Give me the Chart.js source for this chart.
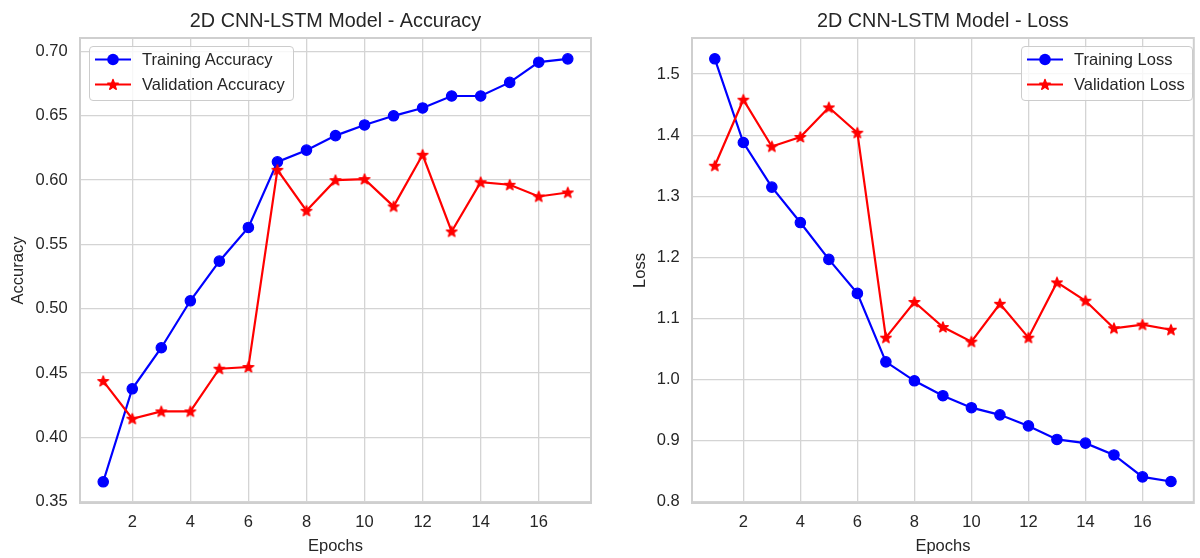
<!DOCTYPE html>
<html>
<head>
<meta charset="utf-8">
<title>2D CNN-LSTM Model - Training History</title>
<script src="https://cdn.jsdelivr.net/npm/chart.js@4.4.1/dist/chart.umd.min.js"></script>
<style>
  html, body {
    margin: 0; padding: 0; background: #ffffff;
    width: 1200px; height: 558px; overflow: hidden; position: relative;
    font-family: "Liberation Sans", Arial, sans-serif; color: #262626;
  }
  canvas { position: absolute; top: 0; }
  #accCanvas { left: 0; }
  #lossCanvas { left: 600px; }
  .legend {
    position: absolute; top: 46px; height: 55px; box-sizing: border-box;
    border: 1px solid #cccccc; border-radius: 4px; background: rgba(255,255,255,0.8);
  }
  .legend .row { position: absolute; left: 0; right: 0; height: 25px; }
  .legend .row svg { position: absolute; left: 5px; top: 0; }
  .legend .row span {
    position: absolute; left: 52px; top: 0; line-height: 25px;
    font-size: 16.5px; white-space: nowrap; color: #262626;
  }
</style>
</head>
<body>
<canvas id="accCanvas" width="600" height="558"></canvas>
<canvas id="lossCanvas" width="602" height="558"></canvas>

<div class="legend" id="accLegend" style="left:89px; width:205px;"></div>
<div class="legend" id="lossLegend" style="left:1021px; width:172px;"></div>

<script>
// Per-epoch training history
const epochs = [1, 2, 3, 4, 5, 6, 7, 8, 9, 10, 11, 12, 13, 14, 15, 16, 17];
const trainAcc = [0.3655, 0.4378, 0.4697, 0.5062, 0.5370, 0.5632, 0.6142, 0.6233, 0.6346, 0.6429, 0.6500, 0.6561, 0.6654, 0.6654, 0.6760, 0.6917, 0.6943];
const valAcc   = [0.4438, 0.4145, 0.4202, 0.4202, 0.4534, 0.4547, 0.6080, 0.5762, 0.6000, 0.6008, 0.5796, 0.6197, 0.5601, 0.5984, 0.5964, 0.5873, 0.5904];
const trainLoss = [1.525, 1.388, 1.315, 1.257, 1.1967, 1.141, 1.029, 0.998, 0.9736, 0.954, 0.9423, 0.9242, 0.902, 0.896, 0.8766, 0.8408, 0.8332];
const valLoss   = [1.350, 1.458, 1.3815, 1.397, 1.4454, 1.404, 1.0686, 1.127, 1.086, 1.062, 1.124, 1.0686, 1.159, 1.129, 1.084, 1.090, 1.0816];

// Tick labels
const epochTicks = [2, 4, 6, 8, 10, 12, 14, 16];
const accTicks = [0.35, 0.40, 0.45, 0.50, 0.55, 0.60, 0.65, 0.70];
const lossTicks = [0.8, 0.9, 1.0, 1.1, 1.2, 1.3, 1.4, 1.5];

const TEXT = '#262626';
const GRID = '#d4d4d4';
const BLUE = '#0000ff';
const RED = '#ff0000';
const FONT = '"Liberation Sans", Arial, sans-serif';

// Filled five-pointed star geometry
function starPoints(cx, cy, R, r) {
  const pts = [];
  for (let k = 0; k < 10; k++) {
    const ang = -Math.PI / 2 + k * Math.PI / 5;
    const rad = (k % 2) ? r : R;
    pts.push([cx + rad * Math.cos(ang), cy + rad * Math.sin(ang)]);
  }
  return pts;
}

function starImage(color) {
  const c = document.createElement('canvas');
  c.width = 16; c.height = 16;
  const g = c.getContext('2d');
  const pts = starPoints(8, 8.4, 5.6, 2.4);
  g.beginPath();
  pts.forEach((p, i) => i ? g.lineTo(p[0], p[1]) : g.moveTo(p[0], p[1]));
  g.closePath();
  g.fillStyle = color; g.strokeStyle = color; g.lineWidth = 1.2; g.lineJoin = 'round';
  g.fill(); g.stroke();
  return c;
}
const redStar = starImage(RED);

// Four-sided axes frame
const framePlugin = {
  id: 'frame',
  beforeDatasetsDraw(chart) {
    const { ctx, chartArea: a } = chart;
    ctx.save();
    ctx.strokeStyle = '#cfcfcf';
    ctx.lineWidth = 2;
    ctx.strokeRect(a.left, a.top, a.right - a.left, a.bottom - a.top);
    ctx.restore();
  }
};

function toPoints(ys) {
  return epochs.map((e, i) => ({ x: e, y: ys[i] }));
}

function buildChart(canvasId, cfg) {
  return new Chart(document.getElementById(canvasId), {
    type: 'line',
    data: {
      datasets: [
        {
          label: cfg.trainLabel,
          data: toPoints(cfg.train),
          borderColor: BLUE, backgroundColor: BLUE,
          borderWidth: 2.2, pointStyle: 'circle', pointRadius: 5.2,
          pointBorderWidth: 1.2, pointBorderColor: BLUE, pointBackgroundColor: BLUE,
          tension: 0, order: 1
        },
        {
          label: cfg.valLabel,
          data: toPoints(cfg.val),
          borderColor: RED, backgroundColor: RED,
          borderWidth: 2.2, pointStyle: redStar, pointRadius: 6,
          tension: 0, order: 0
        }
      ]
    },
    options: {
      responsive: false,
      animation: false,
      layout: { padding: { left: 0, right: cfg.padRight, top: 0, bottom: 0 } },
      plugins: {
        legend: { display: false },
        tooltip: { enabled: false },
        title: {
          display: true, text: cfg.title, fullSize: false,
          color: TEXT, font: { family: FONT, size: 19.8, weight: 'normal', lineHeight: 1.2 },
          padding: { top: 9.3, bottom: 4.94 }
        }
      },
      scales: {
        x: {
          type: 'linear', min: 0.2, max: 17.8,
          afterBuildTicks: s => { s.ticks = epochTicks.map(v => ({ value: v })); },
          afterFit: s => { s.height = 55; },
          ticks: {
            color: TEXT, font: { family: FONT, size: 16.5, lineHeight: 1.2 },
            padding: 9.6, maxRotation: 0, autoSkip: false,
            callback: v => String(v)
          },
          grid: { color: GRID, lineWidth: 1.3, drawTicks: false },
          border: { display: false },
          title: {
            display: true, text: 'Epochs', color: TEXT,
            font: { family: FONT, size: 16.5, lineHeight: 1.2 },
            padding: { top: 4.5, bottom: 1.3 }
          }
        },
        y: {
          type: 'linear', min: cfg.yMin, max: cfg.yMax,
          afterBuildTicks: s => { s.ticks = cfg.yTicks.map(v => ({ value: v })); },
          afterFit: s => { s.width = cfg.yWidth; },
          ticks: {
            color: TEXT, font: { family: FONT, size: 16.5, lineHeight: 1.2 },
            padding: 12.3, autoSkip: false,
            callback: v => v.toFixed(cfg.decimals)
          },
          grid: { color: GRID, lineWidth: 1.3, drawTicks: false },
          border: { display: false },
          title: {
            display: true, text: cfg.yLabel, color: TEXT,
            font: { family: FONT, size: 16.5, lineHeight: 1.2 },
            padding: { top: cfg.yTitlePad, bottom: 0 }
          }
        }
      }
    },
    plugins: [framePlugin]
  });
}

buildChart('accCanvas', {
  title: '2D CNN-LSTM Model - Accuracy',
  trainLabel: 'Training Accuracy', valLabel: 'Validation Accuracy',
  train: trainAcc, val: valAcc,
  yMin: 0.349, yMax: 0.7105, yTicks: accTicks, decimals: 2,
  yLabel: 'Accuracy', yWidth: 80, yTitlePad: 8.3, padRight: 9
});

buildChart('lossCanvas', {
  title: '2D CNN-LSTM Model - Loss',
  trainLabel: 'Training Loss', valLabel: 'Validation Loss',
  train: trainLoss, val: valLoss,
  yMin: 0.798, yMax: 1.559, yTicks: lossTicks, decimals: 1,
  yLabel: 'Loss', yWidth: 92, yTitlePad: 30.1, padRight: 0
});

// Legend boxes with line-and-marker handles
const SVGNS = 'http://www.w3.org/2000/svg';
function handle(color, marker) {
  const svg = document.createElementNS(SVGNS, 'svg');
  svg.setAttribute('width', '36'); svg.setAttribute('height', '25');
  const line = document.createElementNS(SVGNS, 'line');
  line.setAttribute('x1', '0'); line.setAttribute('x2', '36');
  line.setAttribute('y1', '12.5'); line.setAttribute('y2', '12.5');
  line.setAttribute('stroke', color); line.setAttribute('stroke-width', '2.2');
  svg.appendChild(line);
  if (marker === 'circle') {
    const c = document.createElementNS(SVGNS, 'circle');
    c.setAttribute('cx', '18'); c.setAttribute('cy', '12.5'); c.setAttribute('r', '5.8');
    c.setAttribute('fill', color);
    svg.appendChild(c);
  } else {
    const p = document.createElementNS(SVGNS, 'polygon');
    p.setAttribute('points', starPoints(18, 12.9, 5.6, 2.4).map(q => q.join(',')).join(' '));
    p.setAttribute('fill', color); p.setAttribute('stroke', color);
    p.setAttribute('stroke-width', '1.2'); p.setAttribute('stroke-linejoin', 'round');
    svg.appendChild(p);
  }
  return svg;
}
function fillLegend(id, entries) {
  const box = document.getElementById(id);
  entries.forEach((e, i) => {
    const row = document.createElement('div');
    row.className = 'row';
    row.style.top = (i * 25) + 'px';
    row.appendChild(handle(e.color, e.marker));
    const t = document.createElement('span');
    t.textContent = e.text;
    row.appendChild(t);
    box.appendChild(row);
  });
}
fillLegend('accLegend', [
  { text: 'Training Accuracy', color: BLUE, marker: 'circle' },
  { text: 'Validation Accuracy', color: RED, marker: 'star' }
]);
fillLegend('lossLegend', [
  { text: 'Training Loss', color: BLUE, marker: 'circle' },
  { text: 'Validation Loss', color: RED, marker: 'star' }
]);
</script>
</body>
</html>
